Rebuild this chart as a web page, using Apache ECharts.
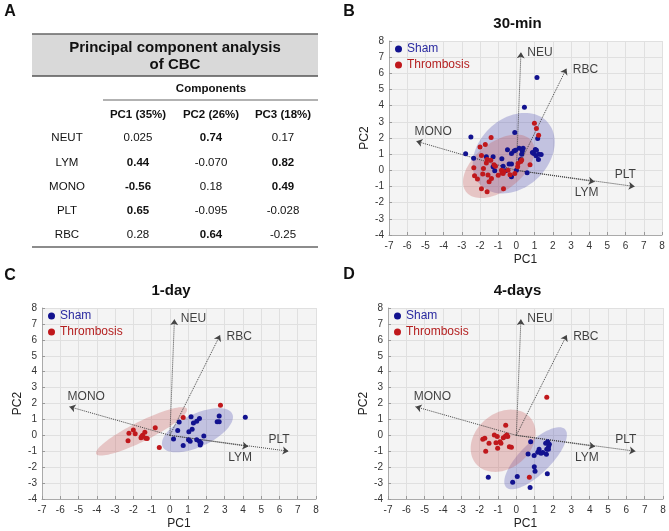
<!DOCTYPE html>
<html>
<head>
<meta charset="utf-8">
<title>PCA of CBC</title>
<script src="https://cdn.jsdelivr.net/npm/echarts@6/dist/echarts.min.js"></script>
<style>html,body{margin:0;background:#fff}#chart{width:669px;height:531px}</style>
</head>
<body>
<div id="chart"></div>
<script>
// table (panel A)
const rowNames = ['NEUT', 'LYM', 'MONO', 'PLT', 'RBC'];
const pcHeaders = ['PC1 (35%)', 'PC2 (26%)', 'PC3 (18%)'];
const pc1 = ['0.025', '0.44', '-0.56', '0.65', '0.28'];
const pc2 = ['0.74', '-0.070', '0.18', '-0.095', '0.64'];
const pc3 = ['0.17', '0.82', '0.49', '-0.028', '-0.25'];

// loading vectors, same in every biplot
const vectorNames = ['NEU', 'RBC', 'MONO', 'LYM', 'PLT'];
const vectorEnds = [[0.25, 7.3], [2.75, 6.3], [-5.5, 1.8], [4.3, -0.7], [6.5, -1.0]];
const vectorLabelAt = [[0.6, 7.3], [3.1, 6.2], [-5.6, 2.4], [3.2, -1.4], [5.4, -0.25]];

const panelTitles = ['30-min', '1-day', '4-days'];

const sham30 = [[1.13,5.74],[0.44,3.9],[-2.5,2.06],[-2.79,1.02],[-2.35,0.75],[-0.09,2.34],[-1.65,0.84],[-1.28,0.84],[-0.8,0.72],[-0.49,1.28],[-0.27,1.04],[-0.13,1.2],[-0.05,1.25],[0.15,1.37],[0.37,1.37],[0.33,1.2],[0.29,1.0],[0.22,0.67],[1.17,1.97],[1.04,1.29],[0.95,1.04],[0.88,1.1],[1.21,0.67],[1.1,1.24],[1.23,0.99],[1.36,0.98],[1.08,0.9],[-0.27,0.39],[-0.4,0.39],[-0.73,0.26],[-0.6,-0.03],[-0.27,-0.4],[0.0,0.01],[0.59,-0.15],[-1.28,0.22],[-1.19,-0.03]];
const thromb30 = [[0.99,2.91],[1.1,2.58],[1.22,2.17],[-1.39,2.03],[-1.71,1.6],[-2.0,1.44],[-1.92,0.92],[-1.61,0.67],[-1.41,0.63],[-1.23,0.35],[-1.15,0.26],[-1.65,0.45],[-1.81,0.12],[-2.34,0.16],[-2.3,-0.33],[-2.14,-0.54],[-1.85,-0.23],[-1.56,-0.29],[-1.37,-0.5],[-1.0,-0.31],[-0.82,0.01],[-0.79,-0.15],[-0.69,-0.07],[-0.73,-0.19],[-0.35,-0.27],[-0.09,-0.19],[0.09,0.43],[0.24,0.55],[0.29,0.64],[0.07,0.22],[0.75,0.35],[-1.92,-1.14],[-1.61,-1.32],[-0.71,-1.14],[-1.5,-0.71],[-0.46,0.01]];
const sham1d = [[4.13,1.14],[2.7,1.22],[2.59,0.85],[2.7,0.85],[1.16,1.16],[1.62,1.06],[1.47,0.89],[1.29,0.77],[0.51,0.83],[0.43,0.31],[1.22,0.39],[1.04,0.23],[1.86,-0.04],[0.2,-0.23],[1.02,-0.27],[1.11,-0.37],[0.73,-0.64],[1.47,-0.27],[1.62,-0.39],[1.66,-0.6],[1.7,-0.48]];
const thromb1d = [[2.77,1.89],[0.73,1.12],[-0.8,0.48],[-0.58,-0.77],[-2.0,0.33],[-1.9,0.1],[-2.24,0.13],[-2.29,-0.34],[-1.49,0.0],[-1.37,0.2],[-1.54,-0.08],[-1.32,-0.18],[-1.24,-0.2],[-1.58,-0.15]];
const sham4d = [[0.78,-0.4],[1.71,-0.4],[1.8,-0.56],[1.76,-0.7],[1.66,-0.88],[1.75,-0.88],[1.24,-0.88],[1.17,-1.06],[1.44,-1.08],[1.35,-1.13],[1.64,-1.19],[0.64,-1.17],[0.97,-1.27],[0.98,-1.98],[1.02,-2.25],[1.69,-2.42],[0.05,-2.58],[-1.53,-2.63],[-0.2,-2.94],[0.75,-3.27],[1.6,-0.5]];
const thromb4d = [[1.66,2.39],[-0.58,0.64],[-1.2,0.02],[-1.04,-0.08],[-0.52,0.02],[-0.47,-0.08],[-0.71,-0.15],[-1.83,-0.25],[-1.72,-0.19],[-1.49,-0.5],[-1.11,-0.46],[-0.89,-0.4],[-0.84,-0.5],[-1.02,-0.81],[-1.67,-1.0],[-0.38,-0.71],[-0.27,-0.75],[0.71,-2.64],[-0.6,-0.05]];

// confidence ellipses: [cx, cy, semi-major, semi-minor, angle deg]
const shamEllipse30 = [-0.15, 1.06, 2.7, 2.0, 55];
const thrombEllipse30 = [-0.97, 0.25, 2.4, 1.4, 45];
const shamEllipse1d = [1.51, 0.32, 2.17, 1.0, 30];
const thrombEllipse1d = [-1.55, 0.25, 2.86, 0.6, 30];
const shamEllipse4d = [1.05, -1.44, 2.43, 0.9, 50];
const thrombEllipse4d = [-0.72, -0.34, 2.1, 1.6, 56];

const FONT = 'Liberation Sans, Arial, sans-serif';
const BLUE = '#12128f';
const RED = '#c0181c';

const panels = [
    { sham: sham30, thromb: thromb30, shamE: shamEllipse30, thrombE: thrombEllipse30, grid: { left: 389, top: 41, width: 273, height: 194 } },
    { sham: sham1d, thromb: thromb1d, shamE: shamEllipse1d, thrombE: thrombEllipse1d, grid: { left: 42, top: 308, width: 274, height: 193 } },
    { sham: sham4d, thromb: thromb4d, shamE: shamEllipse4d, thrombE: thrombEllipse4d, grid: { left: 388, top: 308, width: 275, height: 192 } }
];

const ellipseItem = (params, api) => {
    const cx = api.value(0), cy = api.value(1), a = api.value(2), b = api.value(3);
    const t = api.value(4) * Math.PI / 180;
    const pts = [];
    for (let k = 0; k < 90; k++) {
        const u = k / 90 * 2 * Math.PI;
        const x = a * Math.cos(u), y = b * Math.sin(u);
        pts.push(api.coord([cx + x * Math.cos(t) - y * Math.sin(t), cy + x * Math.sin(t) + y * Math.cos(t)]));
    }
    return { type: 'polygon', shape: { points: pts }, style: { fill: api.visual('color') }, silent: true };
};

const grids = [], xAxes = [], yAxes = [], series = [], legends = [], graphics = [];

panels.forEach((p, i) => {
    grids.push(Object.assign({ show: true, backgroundColor: '#f4f4f4', borderWidth: 0 }, p.grid));
    xAxes.push({
        gridIndex: i, type: 'value', min: -7, max: 8, interval: 1,
        name: 'PC1', nameLocation: 'middle', nameGap: 19,
        nameTextStyle: { fontFamily: FONT, fontSize: 12, color: '#222' },
        axisLine: { onZero: false, lineStyle: { color: '#aaa' } },
        axisTick: { inside: true, length: 3, lineStyle: { color: '#999' } },
        axisLabel: { fontFamily: FONT, fontSize: 10, color: '#333', margin: 6 },
        splitLine: { lineStyle: { color: '#e0e0e0' } }
    });
    yAxes.push({
        gridIndex: i, type: 'value', min: -4, max: 8, interval: 1,
        name: 'PC2', nameLocation: 'middle', nameGap: 18,
        nameTextStyle: { fontFamily: FONT, fontSize: 12, color: '#222' },
        axisLine: { show: true, onZero: false, lineStyle: { color: '#aaa' } },
        axisTick: { show: true, inside: true, length: 3, lineStyle: { color: '#999' } },
        axisLabel: { fontFamily: FONT, fontSize: 10, color: '#333', margin: 5 },
        splitLine: { lineStyle: { color: '#e0e0e0' } }
    });
    series.push({
        type: 'custom', xAxisIndex: i, yAxisIndex: i, renderItem: ellipseItem,
        itemStyle: { color: 'rgba(80,80,180,0.3)' }, encode: { x: 0, y: 1 },
        data: [p.shamE], z: 1, silent: true
    });
    series.push({
        type: 'custom', xAxisIndex: i, yAxisIndex: i, renderItem: ellipseItem,
        itemStyle: { color: 'rgba(200,90,90,0.3)' }, encode: { x: 0, y: 1 },
        data: [p.thrombE], z: 1, silent: true
    });
    series.push({
        type: 'lines', coordinateSystem: 'cartesian2d', xAxisIndex: i, yAxisIndex: i,
        symbol: ['none', 'arrow'], symbolSize: 6,
        lineStyle: { type: 'dotted', color: '#444', width: 1, opacity: 1 },
        data: vectorEnds.map(e => ({ coords: [[0, 0], e] })), z: 2, silent: true
    });
    series.push({
        type: 'scatter', xAxisIndex: i, yAxisIndex: i, symbolSize: 0, silent: true,
        label: {
            show: true, position: 'right', distance: 0, formatter: d => d.value[2],
            fontFamily: FONT, fontSize: 12, color: '#111'
        },
        data: vectorLabelAt.map((v, k) => [v[0], v[1], vectorNames[k]]), z: 3
    });
    series.push({
        name: 'Sham', type: 'scatter', xAxisIndex: i, yAxisIndex: i, symbolSize: 5,
        itemStyle: { color: BLUE, opacity: 1 }, data: p.sham, z: 4
    });
    series.push({
        name: 'Thrombosis', type: 'scatter', xAxisIndex: i, yAxisIndex: i, symbolSize: 5,
        itemStyle: { color: RED, opacity: 1 }, data: p.thromb, z: 4
    });
    legends.push({
        left: p.grid.left + 6, top: p.grid.top + 2, orient: 'vertical', padding: 0,
        icon: 'circle', itemWidth: 7, itemHeight: 7, itemGap: 4, selectedMode: false,
        textStyle: { fontFamily: FONT, fontSize: 12 },
        data: [{ name: 'Sham', textStyle: { color: '#2a2aa0' } }, { name: 'Thrombosis', textStyle: { color: '#b42020' } }]
    });
    graphics.push({
        type: 'text', x: p.grid.left + p.grid.width / 2 - 8, y: p.grid.top - 17,
        style: { text: panelTitles[i], font: 'bold 15px ' + FONT, fill: '#111', textAlign: 'center', textVerticalAlign: 'middle' }
    });
});

// panel letters
[['A', 10, 12], ['B', 349, 12], ['C', 10, 276], ['D', 349, 275]].forEach(l => {
    graphics.push({ type: 'text', x: l[1], y: l[2], style: { text: l[0], font: 'bold 16px ' + FONT, fill: '#111', textAlign: 'center', textVerticalAlign: 'middle' } });
});

// table
const tx0 = 32, tx1 = 318;
const colX = [138, 211, 283];
const rowY = [138, 162.5, 187, 211, 235];
const txt = (s, x, y, font) => ({ type: 'text', x: x, y: y, style: { text: s, font: font, fill: '#111', textAlign: 'center', textVerticalAlign: 'middle' } });
const hline = (x1, x2, y, w, c) => ({ type: 'line', shape: { x1: x1, y1: y, x2: x2, y2: y }, style: { stroke: c, lineWidth: w } });
graphics.push({ type: 'rect', shape: { x: tx0, y: 34, width: tx1 - tx0, height: 42 }, style: { fill: '#d9d9d9' } });
graphics.push(hline(tx0, tx1, 34, 1.5, '#666'));
graphics.push(hline(tx0, tx1, 76, 1.5, '#555'));
graphics.push(hline(103, tx1, 100, 1.2, '#666'));
graphics.push(hline(tx0, tx1, 247, 1.5, '#666'));
graphics.push(txt('Principal component analysis', 175, 48, 'bold 15px ' + FONT));
graphics.push(txt('of CBC', 175, 65, 'bold 15px ' + FONT));
graphics.push(txt('Components', 211, 89, 'bold 11.5px ' + FONT));
pcHeaders.forEach((h, k) => graphics.push(txt(h, colX[k], 115, 'bold 11.5px ' + FONT)));
[pc1, pc2, pc3].forEach((col, k) => {
    col.forEach((v, r) => {
        const bold = Math.abs(parseFloat(v)) >= 0.4;
        graphics.push(txt(v, colX[k], rowY[r], (bold ? 'bold ' : '') + '11.5px ' + FONT));
    });
});
rowNames.forEach((n, r) => graphics.push(txt(n, 67, rowY[r], '11.5px ' + FONT)));

const chart = echarts.init(document.getElementById('chart'), null, { renderer: 'canvas' });
chart.setOption({
    backgroundColor: '#fff',
    animation: false,
    grid: grids,
    xAxis: xAxes,
    yAxis: yAxes,
    legend: legends,
    series: series,
    graphic: graphics
});
</script>
</body>
</html>
